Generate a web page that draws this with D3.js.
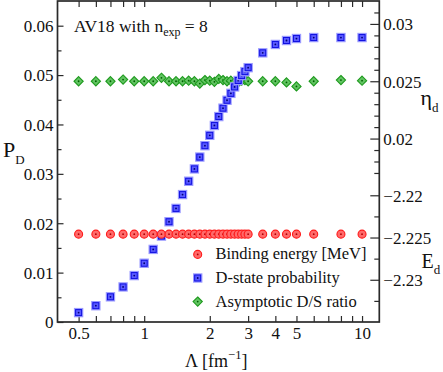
<!DOCTYPE html>
<html><head><meta charset="utf-8">
<script src="https://cdn.jsdelivr.net/npm/d3@7"></script>
<style>html,body{margin:0;padding:0;background:#fff;}</style>
</head><body>
<svg id="c" width="443" height="372"></svg>
<script>
const lambdas = [0.5,0.6,0.7,0.8,0.9,1.0,1.1,1.2,1.3,1.4,1.5,1.6,1.7,1.8,1.9,2.0,2.1,2.2,2.3,2.4,2.5,2.6,2.7,2.8,2.9,3.0,3.5,4,4.5,5,6,8,10];
const pD = [0.0019,0.0033,0.0051,0.0071,0.0094,0.0119,0.0147,0.0174,0.0203,0.0230,0.0258,0.0285,0.0310,0.0334,0.0357,0.0378,0.0398,0.0416,0.0433,0.0449,0.0463,0.0476,0.0489,0.0499,0.0507,0.0515,0.0545,0.0562,0.0570,0.0574,0.0576,0.0576,0.0576];
const etaD = [0.0250,0.0250,0.0250,0.02515,0.0250,0.0250,0.0250,0.0253,0.0250,0.0250,0.0250,0.02505,0.0250,0.0248,0.0251,0.02505,0.02495,0.0252,0.0251,0.0250,0.02505,0.0249,0.0249,0.02505,0.0251,0.0250,0.0250,0.0250,0.0249,0.02455,0.0250,0.0251,0.02505];
const eD = lambdas.map(() => -2.2246);
const xTickLabels = [0.5,1,2,3,4,5,10];
const xMinorTicks = [0.5,0.6,0.7,0.8,0.9,1,2,3,4,5,6,7,8,9,10];
const pMajor = [0,0.01,0.02,0.03,0.04,0.05,0.06];
const pMinor = [0.005,0.015,0.025,0.035,0.045,0.055];
const etaMajor = [0.02,0.025,0.03];
const etaMinor = [0.017,0.018,0.019,0.021,0.022,0.023,0.024,0.026,0.027,0.028,0.029,0.031];
const eMajor = [-2.22,-2.225,-2.23];
const eMinor = [-2.2225,-2.2275,-2.2325];
const legendLabels = ["Binding energy [MeV]","D-state probability","Asymptotic D/S ratio"];

const FONT = "Liberation Serif, DejaVu Serif, Times New Roman, serif";
const L = 57.5, R = 379.3, T = 1, B = 322;
const svg = d3.select("#c").attr("font-family", FONT);
const x = d3.scaleLog().domain([0.4, 12]).range([L, R]);
const yP = d3.scaleLinear().domain([0, 0.065]).range([B, T]);
const yEta = d3.scaleLinear().domain([0.004, 0.032]).range([B, T]);
const yE = d3.scaleLinear().domain([-2.235, -2.197]).range([B, T]);
const fmtMinus = s => String(s).replace("-", "\u2212");
const axisColor = "#2a2a2a";

function styleAxis(g){ g.attr("font-family", FONT); g.select(".domain").remove(); g.selectAll("line").attr("stroke", axisColor).attr("stroke-width", 1.2); g.selectAll("text").attr("fill","#111").attr("font-size", 17).attr("font-family", FONT); }

// bottom axis (inward ticks)
svg.append("g").attr("transform", `translate(0,${B})`)
  .call(d3.axisBottom(x).tickValues(xMinorTicks).tickSize(-6).tickFormat(""))
  .call(styleAxis);
const gxl = svg.append("g").attr("transform", `translate(0,${B})`)
  .call(d3.axisBottom(x).tickValues(xTickLabels).tickSize(0).tickPadding(5).tickFormat(d => String(d)))
  .call(styleAxis);
gxl.selectAll("text").attr("dy", null).attr("y", 17);
// top axis
svg.append("g").attr("transform", `translate(0,${T})`)
  .call(d3.axisTop(x).tickValues(xMinorTicks).tickSize(-6).tickFormat(""))
  .call(styleAxis);

// left axis
const gyl = svg.append("g").attr("transform", `translate(${L},0)`)
  .call(d3.axisLeft(yP).tickValues(pMajor).tickSize(-6).tickPadding(4).tickFormat(d => d === 0 ? "0" : d3.format(".2f")(d)))
  .call(styleAxis);
gyl.selectAll("text").attr("x", -4).attr("dy", "0.34em");
svg.append("g").attr("transform", `translate(${L},0)`)
  .call(d3.axisLeft(yP).tickValues(pMinor).tickSize(-4).tickFormat(""))
  .call(styleAxis);

// right axes
const gre = svg.append("g").attr("transform", `translate(${R},0)`)
  .call(d3.axisRight(yEta).tickValues(etaMajor).tickSize(-9).tickFormat(d => String(+d.toFixed(3))))
  .call(styleAxis);
gre.selectAll("text").attr("x", 4).attr("dy", "0.34em");
svg.append("g").attr("transform", `translate(${R},0)`)
  .call(d3.axisRight(yEta).tickValues(etaMinor).tickSize(-5).tickFormat(""))
  .call(styleAxis);
const grE = svg.append("g").attr("transform", `translate(${R},0)`)
  .call(d3.axisRight(yE).tickValues(eMajor).tickSize(-9).tickFormat(d => fmtMinus(+d.toFixed(3))))
  .call(styleAxis);
grE.selectAll("text").attr("x", 4).attr("dy", "0.34em");
svg.append("g").attr("transform", `translate(${R},0)`)
  .call(d3.axisRight(yE).tickValues(eMinor).tickSize(-5).tickFormat(""))
  .call(styleAxis);

// frame
svg.append("rect").attr("x", L).attr("y", T).attr("width", R - L).attr("height", B - T)
  .attr("fill", "none").attr("stroke", axisColor).attr("stroke-width", 1.7);

// marker drawers
function circleM(g, cx, cy){
  g.append("circle").attr("cx", cx).attr("cy", cy).attr("r", 4).attr("fill", "#ff6a6a").attr("stroke", "#ff1a1a").attr("stroke-width", 1.1);
  g.append("circle").attr("cx", cx).attr("cy", cy).attr("r", 0.9).attr("fill", "#b00000");
}
function squareM(g, cx, cy){
  g.append("rect").attr("x", cx - 4).attr("y", cy - 4).attr("width", 8).attr("height", 8).attr("fill", "#6a6aff").attr("stroke", "#9a9aff").attr("stroke-width", 1.4);
  g.append("rect").attr("x", cx - 3).attr("y", cy - 3).attr("width", 6).attr("height", 6).attr("fill", "#5a5aff").attr("stroke", "#1010e0").attr("stroke-width", 1);
  g.append("circle").attr("cx", cx).attr("cy", cy).attr("r", 0.9).attr("fill", "#000070");
}
function diamondM(g, cx, cy){
  g.append("path").attr("d", `M${cx},${cy-4.6}L${cx+4.6},${cy}L${cx},${cy+4.6}L${cx-4.6},${cy}Z`).attr("fill", "#62c462").attr("stroke", "#1e9a1e").attr("stroke-width", 1.1);
  g.append("circle").attr("cx", cx).attr("cy", cy).attr("r", 0.9).attr("fill", "#006000");
}

const gG = svg.append("g"), gB = svg.append("g"), gR = svg.append("g");
lambdas.forEach((l, i) => diamondM(gG, x(l), yEta(etaD[i])));
lambdas.forEach((l, i) => squareM(gB, x(l), yP(pD[i])));
lambdas.forEach((l, i) => circleM(gR, x(l), yE(eD[i])));

// legend
const lg = svg.append("g");
const drawers = [circleM, squareM, diamondM];
legendLabels.forEach((t, i) => {
  const cy = 254.4 + i * 23.6;
  drawers[i](lg, 197.7, cy);
  lg.append("text").attr("x", 215.5).attr("y", cy + 5).attr("font-size", 16.5).attr("font-family", FONT).attr("fill", "#111").text(t);
});

// title
const title = svg.append("text").attr("x", 74).attr("y", 31.5).attr("font-size", 17.5).attr("font-family", FONT).attr("fill", "#111");
title.append("tspan").text("AV18 with n");
title.append("tspan").attr("font-size", 12).attr("dy", 4).text("exp");
title.append("tspan").attr("dy", -4).text(" = 8");

// axis titles
const pt = svg.append("text").attr("x", 3).attr("y", 157).attr("font-size", 22).attr("font-family", FONT).attr("fill", "#111");
pt.append("tspan").text("P");
pt.append("tspan").attr("font-size", 13).attr("dy", 7).text("D");

const et = svg.append("text").attr("x", 420.5).attr("y", 105).attr("font-size", 22).attr("font-family", FONT).attr("fill", "#111");
et.append("tspan").text("\u03B7");
et.append("tspan").attr("font-size", 13).attr("dy", 7).text("d");

const Et = svg.append("text").attr("x", 421.5).attr("y", 267.5).attr("font-size", 20).attr("font-family", FONT).attr("fill", "#111");
Et.append("tspan").text("E");
Et.append("tspan").attr("font-size", 13).attr("dy", 6).text("d");

const xt = svg.append("text").attr("x", 185).attr("y", 367).attr("font-size", 18).attr("font-family", FONT).attr("fill", "#111");
xt.append("tspan").text("\u039B [fm");
xt.append("tspan").attr("font-size", 12.5).attr("dy", -8).text("\u22121");
xt.append("tspan").attr("dy", 8).text("]");
</script>
</body></html>
